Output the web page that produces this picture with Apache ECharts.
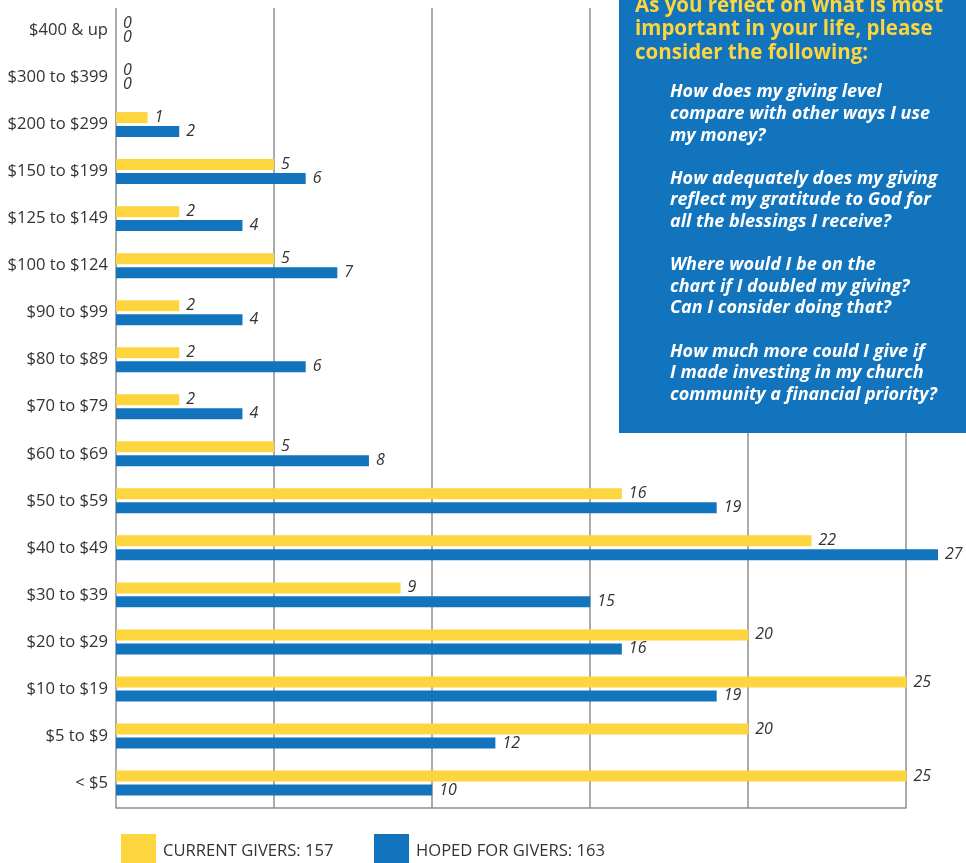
<!DOCTYPE html>
<html>
<head>
<meta charset="utf-8">
<script src="https://cdn.jsdelivr.net/npm/echarts@6/dist/echarts.min.js"></script>
<style>
html,body{margin:0;padding:0;background:#fff;}
#chart{width:966px;height:863px;}
</style>
</head>
<body>
<div id="chart"></div>
<script>
const categories = ['$400 & up','$300 to $399','$200 to $299','$150 to $199','$125 to $149','$100 to $124','$90 to $99','$80 to $89','$70 to $79','$60 to $69','$50 to $59','$40 to $49','$30 to $39','$20 to $29','$10 to $19','$5 to $9','< $5'];
const currentGivers = [0,0,1,5,2,5,2,2,2,5,16,22,9,20,25,20,25];
const hopedGivers = [0,0,2,6,4,7,4,6,4,8,19,27,15,16,19,12,10];
const seriesNames = ['CURRENT GIVERS: 157','HOPED FOR GIVERS: 163'];
const boxTitle = 'As you reflect on what is most\nimportant in your life, please\nconsider the following:';
const boxQuestions = [
  'How does my giving level\ncompare with other ways I use\nmy money?',
  'How adequately does my giving\nreflect my gratitude to God for\nall the blessings I receive?',
  'Where would I be on the\nchart if I doubled my giving?\nCan I consider doing that?',
  'How much more could I give if\nI made investing in my church\ncommunity a financial priority?'
];

const YELLOW = '#FDD53E';
const BLUE = '#1174BC';
const GRID = '#8f8f8f';
const FONT = '"Open Sans", "Noto Sans", sans-serif';

const chart = echarts.init(document.getElementById('chart'), null, {renderer:'canvas'});

const labelStyle = {
  show: true, position: 'right', distance: 7,
  fontFamily: FONT, fontStyle: 'italic', fontSize: 16, color: '#333'
};

chart.setOption({
  animation: false,
  textStyle: {fontFamily: FONT},
  grid: [
    {left: 116, right: 28, top: 7, bottom: 56.5},
    {left: 116, right: 60, top: 8, bottom: 55}
  ],
  xAxis: [
    {gridIndex: 0, type: 'value', min: 0, max: 26, interval: 5,
     axisLine: {show: false}, axisTick: {show: false}, axisLabel: {show: false}, splitLine: {show: false}},
    {gridIndex: 1, type: 'value', min: 0, max: 25, interval: 5, position: 'top',
     axisLine: {show: true, lineStyle: {color: GRID, width: 1.5}}, axisTick: {show: false}, axisLabel: {show: false},
     splitLine: {show: true, showMinLine: true, showMaxLine: true, lineStyle: {color: GRID, width: 1.5}}}
  ],
  yAxis: [
    {gridIndex: 0, type: 'category', data: categories, inverse: true,
     axisLine: {show: false}, axisTick: {show: false},
     axisLabel: {margin: 8, fontSize: 16.6, color: '#333', fontFamily: FONT}},
    {gridIndex: 1, type: 'value', min: 0, max: 1, show: false}
  ],
  legend: [
    {data: [seriesNames[0]], left: 121, top: 834, padding: 0, itemWidth: 35, itemHeight: 35, icon: 'rect',
     itemGap: 0, textStyle: {fontSize: 16.6, color: '#333', fontFamily: FONT, padding: [0,0,0,2]}},
    {data: [seriesNames[1]], left: 374, top: 834, padding: 0, itemWidth: 35, itemHeight: 35, icon: 'rect',
     itemGap: 0, textStyle: {fontSize: 16.6, color: '#333', fontFamily: FONT, padding: [0,0,0,2]}}
  ],
  series: [
    {name: seriesNames[0], type: 'bar', xAxisIndex: 0, yAxisIndex: 0, data: currentGivers,
     barWidth: 11, barGap: '27%', clip: true,
     itemStyle: {color: YELLOW},
     label: labelStyle},
    {name: seriesNames[1], type: 'bar', xAxisIndex: 0, yAxisIndex: 0, data: hopedGivers,
     barWidth: 11, barGap: '27%', clip: true,
     itemStyle: {color: BLUE},
     label: labelStyle}
  ],
  graphic: [
    {type: 'rect', left: 619, top: 0, z: 100,
     shape: {width: 347, height: 433}, style: {fill: BLUE}},
    {type: 'text', left: 635, top: -6, z: 101,
     style: {text: boxTitle, fill: YELLOW, font: 'bold 20.5px ' + FONT, lineHeight: 23.5}},
    {type: 'text', left: 670, top: 81.5, z: 101,
     style: {text: boxQuestions.join('\n\n'), fill: '#ffffff', font: 'italic bold 18px ' + FONT, lineHeight: 21.6}}
  ]
});
</script>
</body>
</html>
